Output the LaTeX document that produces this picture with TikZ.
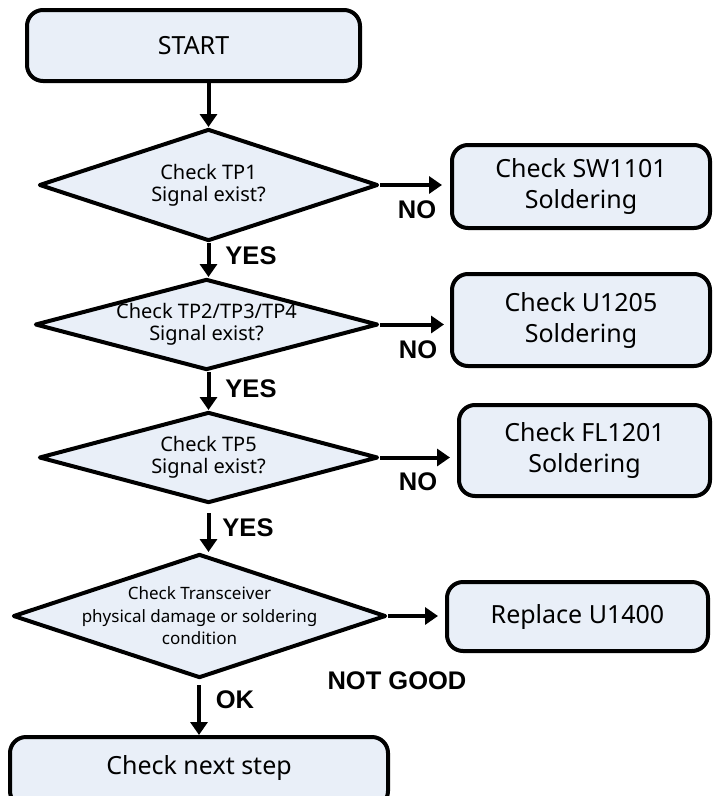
\documentclass[tikz,border=0pt]{standalone}
\usepackage{fontspec}
\setmainfont{Noto Sans}
\newfontfamily\tagfont{Liberation Sans}
\usetikzlibrary{arrows.meta,shapes.geometric}

\definecolor{boxfill}{RGB}{233,239,248}

\begin{document}
\begin{tikzpicture}[x=1pt,y=-1pt,line width=4pt,line join=round,>={Triangle[length=13pt,width=17pt]},
box/.style={draw, rounded corners=16pt, fill=boxfill, align=center, inner sep=0pt, font=\fontsize{25}{31}\selectfont},
test/.style={draw, diamond, fill=boxfill, inner sep=0pt},
qtext/.style={align=center, font=\fontsize{20}{22}\selectfont},
tag/.style={font=\tagfont\bfseries\fontsize{25.5}{28}\selectfont}]
\useasboundingbox (0,0) rectangle (713,796);
% main column of checks
\node[box, minimum width=333pt, minimum height=71pt] (start) at (193.5,45.5) {START};
\node[test, minimum width=339pt, minimum height=112pt, label={[qtext]center:Check TP1\\Signal exist?}] (tp1) at (208.5,185) {};
\node[test, minimum width=343pt, minimum height=91pt, label={[qtext]center:Check TP2/TP3/TP4\\Signal exist?}] (tp2) at (206.5,324.5) {};
\node[test, minimum width=339pt, minimum height=91pt, label={[qtext]center:Check TP5\\Signal exist?}] (tp3) at (208.5,457.5) {};
\node[test, minimum width=373pt, minimum height=124pt, label={[qtext, font=\fontsize{17}{22.5}\selectfont]center:Check Transceiver\\physical damage or soldering\\condition}] (trx) at (199.5,616) {};
\node[box, minimum width=378pt, minimum height=70pt] (next) at (199,772) {};
\node[font=\fontsize{25}{31}\selectfont] (nexttxt) at (199,768) {Check next step};
% repair boxes on the right
\node[box, minimum width=258pt, minimum height=83pt] (sw) at (581,186.5) {Check SW1101\\Soldering};
\node[box, minimum width=258pt, minimum height=92pt] (u1205) at (581,320) {Check U1205\\Soldering};
\node[box, minimum width=251pt, minimum height=91pt] (fl) at (584.5,450.5) {Check FL1201\\Soldering};
\node[box, minimum width=261pt, minimum height=69pt] (u1400) at (577.5,616.5) {Replace U1400};
% connectors
\draw[->] (start.south -| tp1.north) -- (tp1.north);
\draw[->] (tp1.south) -- (tp1.south |- tp2.north);
\draw[->] (tp2.south -| tp1.south) -- (tp1.south |- tp3.north);
\draw[->, shorten <=8pt] (tp3.south) -- (tp3.south |- trx.north);
\draw[->, shorten <=5pt] (trx.south -| next.north) -- (next.north);
\draw[->, shorten >=8pt] (tp1.east) -- (sw.west |- tp1.east);
\draw[->, shorten >=6pt] (tp2.east) -- (u1205.west |- tp2.east);
\draw[->, shorten >=7pt] (tp3.east) -- (fl.west |- tp3.east);
\draw[->, shorten >=7pt] (trx.east) -- (u1400.west |- trx.east);
% branch labels
\node[tag] (yes1) at (251,256) {YES};
\node[tag] (yes2) at (251,389) {YES};
\node[tag] (yes3) at (248,528) {YES};
\node[tag] (no1) at (417,210) {NO};
\node[tag] (no2) at (418,350) {NO};
\node[tag] (no3) at (418,482) {NO};
\node[tag] (ok) at (235,700) {OK};
\node[tag] (notgood) at (397,681) {NOT GOOD};
\end{tikzpicture}
\end{document}
